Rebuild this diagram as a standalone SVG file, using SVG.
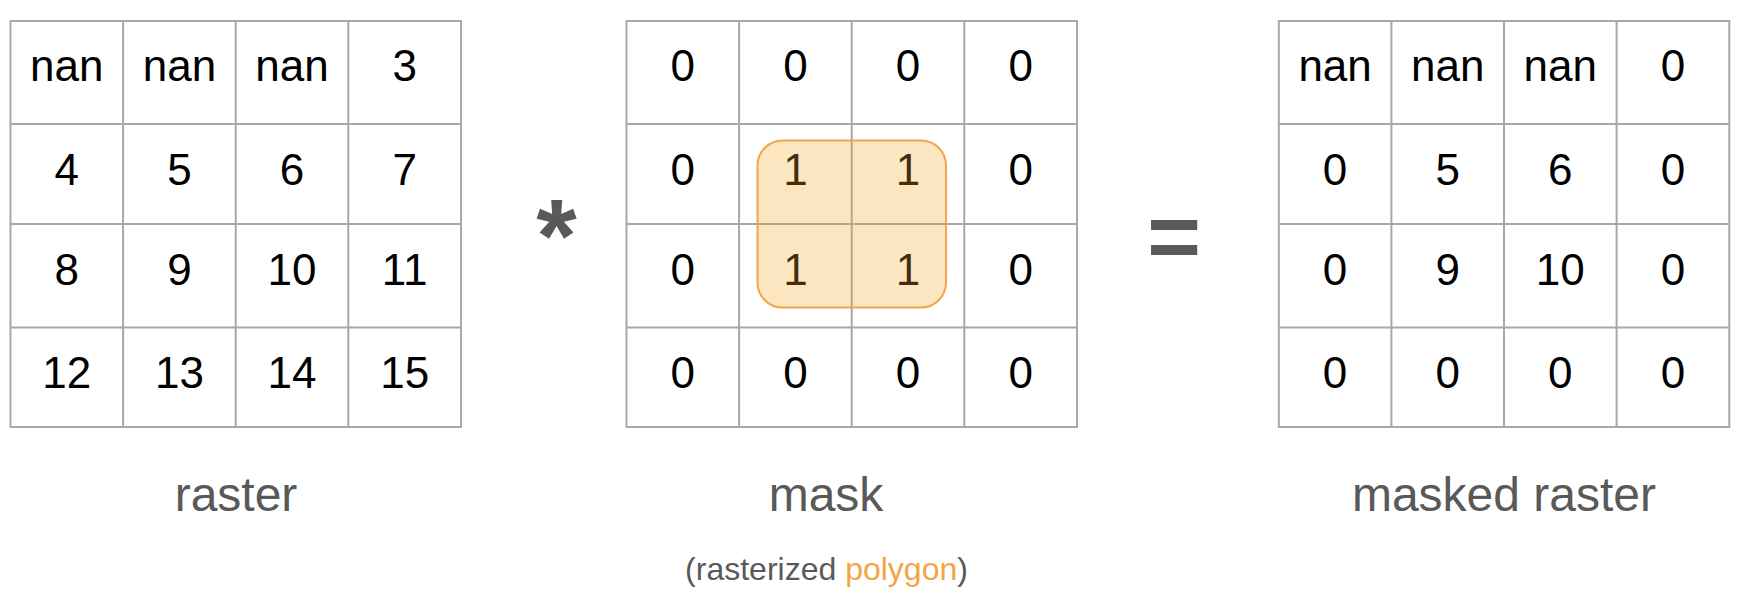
<svg xmlns="http://www.w3.org/2000/svg" width="1746" height="604" viewBox="0 0 1746 604">
<style>
.grid line, .grid rect.frame{stroke:#A8A8A8;stroke-width:2;fill:none}
.cell{font-family:"Liberation Sans",Arial,sans-serif;font-size:44px;fill:#000;text-anchor:middle}
.label{font-family:"Liberation Sans",Arial,sans-serif;font-size:48px;fill:#595959;text-anchor:middle}
.sub{font-family:"Liberation Sans",Arial,sans-serif;font-size:32px;fill:#595959;text-anchor:middle}
.op{font-family:"Liberation Sans",Arial,sans-serif;font-weight:bold;fill:#595959;text-anchor:middle}
.poly{fill:#F5A623;fill-opacity:0.28;stroke:#F2A545;stroke-width:2}
</style>
<defs>
<g id="gridlines" class="grid">
<rect class="frame" x="0" y="21" width="450.5" height="406"/>
<line x1="112.6" y1="21" x2="112.6" y2="427"/>
<line x1="225.2" y1="21" x2="225.2" y2="427"/>
<line x1="337.8" y1="21" x2="337.8" y2="427"/>
<line x1="0" y1="124" x2="450.5" y2="124"/>
<line x1="0" y1="224" x2="450.5" y2="224"/>
<line x1="0" y1="327.5" x2="450.5" y2="327.5"/>
</g>
</defs>
<g id="raster" transform="translate(10.5,0)">
<use href="#gridlines"/>
<g class="cell">
<text x="56.3" y="81">nan</text><text x="168.9" y="81">nan</text><text x="281.5" y="81">nan</text><text x="394.2" y="81">3</text>
<text x="56.3" y="185">4</text><text x="168.9" y="185">5</text><text x="281.5" y="185">6</text><text x="394.2" y="185">7</text>
<text x="56.3" y="284.5">8</text><text x="168.9" y="284.5">9</text><text x="281.5" y="284.5">10</text><text x="394.2" y="284.5">11</text>
<text x="56.3" y="388">12</text><text x="168.9" y="388">13</text><text x="281.5" y="388">14</text><text x="394.2" y="388">15</text>
</g>
</g>
<g id="mask">
<g transform="translate(626.5,0)">
<use href="#gridlines"/>
<g class="cell">
<text x="56.3" y="81">0</text><text x="168.9" y="81">0</text><text x="281.5" y="81">0</text><text x="394.2" y="81">0</text>
<text x="56.3" y="185">0</text><text x="168.9" y="185">1</text><text x="281.5" y="185">1</text><text x="394.2" y="185">0</text>
<text x="56.3" y="284.5">0</text><text x="168.9" y="284.5">1</text><text x="281.5" y="284.5">1</text><text x="394.2" y="284.5">0</text>
<text x="56.3" y="388">0</text><text x="168.9" y="388">0</text><text x="281.5" y="388">0</text><text x="394.2" y="388">0</text>
</g>
</g>
<rect id="polygon" class="poly" x="757.5" y="140.5" width="188.5" height="167" rx="25" ry="25"/>
</g>
<g id="masked-raster" transform="translate(1278.8,0)">
<use href="#gridlines"/>
<g class="cell">
<text x="56.3" y="81">nan</text><text x="168.9" y="81">nan</text><text x="281.5" y="81">nan</text><text x="394.2" y="81">0</text>
<text x="56.3" y="185">0</text><text x="168.9" y="185">5</text><text x="281.5" y="185">6</text><text x="394.2" y="185">0</text>
<text x="56.3" y="284.5">0</text><text x="168.9" y="284.5">9</text><text x="281.5" y="284.5">10</text><text x="394.2" y="284.5">0</text>
<text x="56.3" y="388">0</text><text x="168.9" y="388">0</text><text x="281.5" y="388">0</text><text x="394.2" y="388">0</text>
</g>
</g>
<g id="operators">
<text id="times" class="op" x="556.5" y="272" font-size="104">*</text>
<text id="equals" class="op" x="1174" y="268" font-size="92">=</text>
</g>
<g id="labels">
<text class="label" x="236" y="511">raster</text>
<text class="label" x="826" y="511">mask</text>
<text class="label" x="1504" y="511">masked raster</text>
<text class="sub" x="826.5" y="580">(rasterized <tspan fill="#F2A545">polygon</tspan>)</text>
</g>
<g id="connectors"/>
</svg>
